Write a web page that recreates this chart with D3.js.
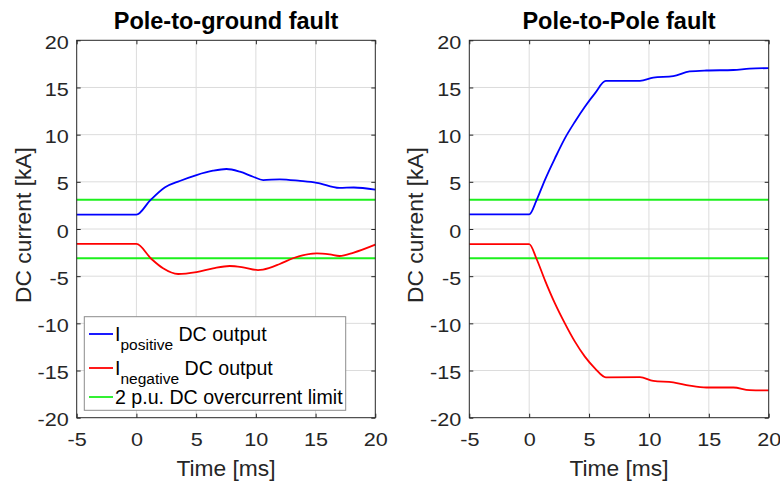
<!DOCTYPE html>
<html>
<head>
<meta charset="utf-8">
<title>DC fault currents</title>
<style>
  body { margin: 0; background: #fff; }
  text { font-family: "Liberation Sans", Arial, sans-serif; fill: #262626; }
  .tick text { font-size: 18px; }
  .title { font-size: 23.5px; font-weight: bold; fill: #000; }
  .label { font-size: 22.8px; }
  .legend text { font-size: 19.6px; fill: #000; }
</style>
</head>
<body>
<svg width="780" height="481"></svg>
<script src="https://d3js.org/d3.v7.min.js"></script>
<script>
// ---- data ----
var xTicks = [-5, 0, 5, 10, 15, 20];
var yTicks = [-20, -15, -10, -5, 0, 5, 10, 15, 20];
var limit = 3.1;  // 2 p.u. overcurrent limit, kA

// pole-to-ground
var pgPosT = [-5, 0, 1.13, 2.4, 3.63, 5.03, 6.42, 7.54, 8.66, 9.77, 10.61, 12.0, 13.7, 15.1, 17, 18.2, 20];
var pgPosI = [1.52, 1.52, 3.0, 4.42, 5.09, 5.72, 6.18, 6.36, 6.07, 5.54, 5.19, 5.27, 5.1, 4.9, 4.35, 4.4, 4.17];
var pgNegT = [-5, 0, 1.26, 2.23, 3.49, 5.03, 6.42, 7.81, 8.93, 10.18, 10.6, 12.0, 13.1, 15.1, 16.2, 17, 18.2, 20];
var pgNegI = [-1.58, -1.58, -3.18, -4.17, -4.77, -4.56, -4.17, -3.92, -4.06, -4.35, -4.3, -3.71, -3.1, -2.58, -2.7, -2.86, -2.5, -1.66];

// pole-to-pole
var ppT    = [-5, 0, 0.62, 1.31, 2.15, 2.98, 3.82, 4.65, 5.49, 6.4, 9.25, 10.36, 12.03, 13.4, 14.8, 17.05, 18.4, 20];
var ppPosI = [1.54, 1.54, 3.07, 5.19, 7.49, 9.61, 11.37, 12.96, 14.38, 15.69, 15.7, 16.04, 16.2, 16.7, 16.8, 16.85, 17.0, 17.05];
var ppNegI = [-1.6, -1.6, -3.18, -5.41, -7.88, -10.0, -11.94, -13.53, -14.77, -15.72, -15.7, -16.1, -16.25, -16.6, -16.8, -16.8, -17.07, -17.1];

var colPos = "#0000ff", colNeg = "#ff0000", colLim = "#1cf01c";
var lw = 1.8;

var svg = d3.select("svg");
var yTop = 40.3, yBot = 417.7;
var fmt = d => String(d);   // plain hyphen minus, as in the original

function panel(x0, x1, title, series, legend) {
  var x = d3.scaleLinear().domain([-5, 20]).range([x0, x1]);
  var y = d3.scaleLinear().domain([-20, 20]).range([yBot, yTop]);
  var g = svg.append("g");

  // grid
  g.selectAll(".gx").data(xTicks.slice(1, -1)).enter().append("line")
    .attr("x1", d => x(d)).attr("x2", d => x(d))
    .attr("y1", yTop).attr("y2", yBot)
    .attr("stroke", "#dcdcdc").attr("stroke-width", 1);
  g.selectAll(".gy").data(yTicks.slice(1, -1)).enter().append("line")
    .attr("x1", x0).attr("x2", x1)
    .attr("y1", d => y(d)).attr("y2", d => y(d))
    .attr("stroke", "#dcdcdc").attr("stroke-width", 1);

  // limits
  [limit, -limit].forEach(function(v) {
    g.append("line").attr("x1", x0).attr("x2", x1)
      .attr("y1", y(v)).attr("y2", y(v))
      .attr("stroke", colLim).attr("stroke-width", lw);
  });

  var line = d3.line().curve(d3.curveMonotoneX)
    .x(d => x(d[0])).y(d => y(d[1]));
  series.forEach(function(s) {
    g.append("path").datum(d3.zip(s.t, s.v))
      .attr("fill", "none").attr("stroke", s.c).attr("stroke-width", lw)
      .attr("d", line);
  });

  // axes (ticks inside, box on)
  var tl = 4;
  g.append("g").attr("transform", "translate(0," + yBot + ")")
    .call(d3.axisBottom(x).tickValues(xTicks).tickFormat(fmt).tickSizeInner(-tl).tickSizeOuter(0).tickPadding(16))
    .call(a => a.select(".domain").remove());
  g.append("g").attr("transform", "translate(0," + yTop + ")")
    .call(d3.axisTop(x).tickValues(xTicks).tickSizeInner(-tl).tickSizeOuter(0).tickFormat(""))
    .call(a => a.select(".domain").remove());
  g.append("g").attr("transform", "translate(" + x0 + ",0)")
    .call(d3.axisLeft(y).tickValues(yTicks).tickFormat(fmt).tickSizeInner(-tl).tickSizeOuter(0).tickPadding(8))
    .call(a => a.select(".domain").remove())
    .selectAll("text").attr("dy", "0.45em");
  g.append("g").attr("transform", "translate(" + x1 + ",0)")
    .call(d3.axisRight(y).tickValues(yTicks).tickSizeInner(-tl).tickSizeOuter(0).tickFormat(""))
    .call(a => a.select(".domain").remove());
  g.selectAll(".tick line").attr("stroke", "#262626");
  g.selectAll("g.tick text").attr("fill", "#262626");
  g.selectAll("g[font-family]").attr("font-family", null).attr("font-size", null);
  // the original's tick numbers are wider than their height suggests
  g.selectAll("g.tick text").each(function() {
    var w = this.getComputedTextLength();
    if (w > 0) d3.select(this).attr("textLength", w * 1.2).attr("lengthAdjust", "spacingAndGlyphs");
  });
  g.append("rect").attr("x", x0).attr("y", yTop).attr("width", x1 - x0).attr("height", yBot - yTop)
    .attr("fill", "none").attr("stroke", "#262626").attr("stroke-width", 1);

  g.append("text").attr("class", "title").attr("x", (x0 + x1) / 2).attr("y", 28.5)
    .attr("text-anchor", "middle").text(title);
  g.append("text").attr("class", "label").attr("x", (x0 + x1) / 2).attr("y", 476)
    .attr("text-anchor", "middle").text("Time [ms]");
  g.append("text").attr("class", "label")
    .attr("transform", "translate(" + (x0 - 46) + ",225) rotate(-90)")
    .attr("text-anchor", "middle").text("DC current [kA]");

  if (legend) {
    var lg = g.append("g").attr("class", "legend");
    lg.append("rect").attr("x", 84.3).attr("y", 316.7).attr("width", 261.4).attr("height", 93.6)
      .attr("fill", "#fff").attr("stroke", "#8c8c8c").attr("stroke-width", 1);
    var rows = [
      { c: colPos, y: 334, sub: "positive", rest: " DC output" },
      { c: colNeg, y: 368, sub: "negative", rest: " DC output" },
      { c: colLim, y: 397, main: "2 p.u. DC overcurrent limit" }
    ];
    rows.forEach(function(r) {
      lg.append("line").attr("x1", 89).attr("x2", 113).attr("y1", r.y).attr("y2", r.y)
        .attr("stroke", r.c).attr("stroke-width", lw);
      var t = lg.append("text").attr("x", 115).attr("y", r.y + 6.5);
      if (r.sub) {
        t.append("tspan").text("I");
        t.append("tspan").attr("dy", 9).attr("font-size", "15.5px").text(r.sub);
        t.append("tspan").attr("dy", -9).text(r.rest);
      } else {
        t.text(r.main);
      }
    });
  }
}

panel(76.7, 375.3, "Pole-to-ground fault", [
  { t: pgPosT, v: pgPosI, c: colPos },
  { t: pgNegT, v: pgNegI, c: colNeg }
], true);

panel(469.3, 768.7, "Pole-to-Pole fault", [
  { t: ppT, v: ppPosI, c: colPos },
  { t: ppT, v: ppNegI, c: colNeg }
], false);
</script>
</body>
</html>
